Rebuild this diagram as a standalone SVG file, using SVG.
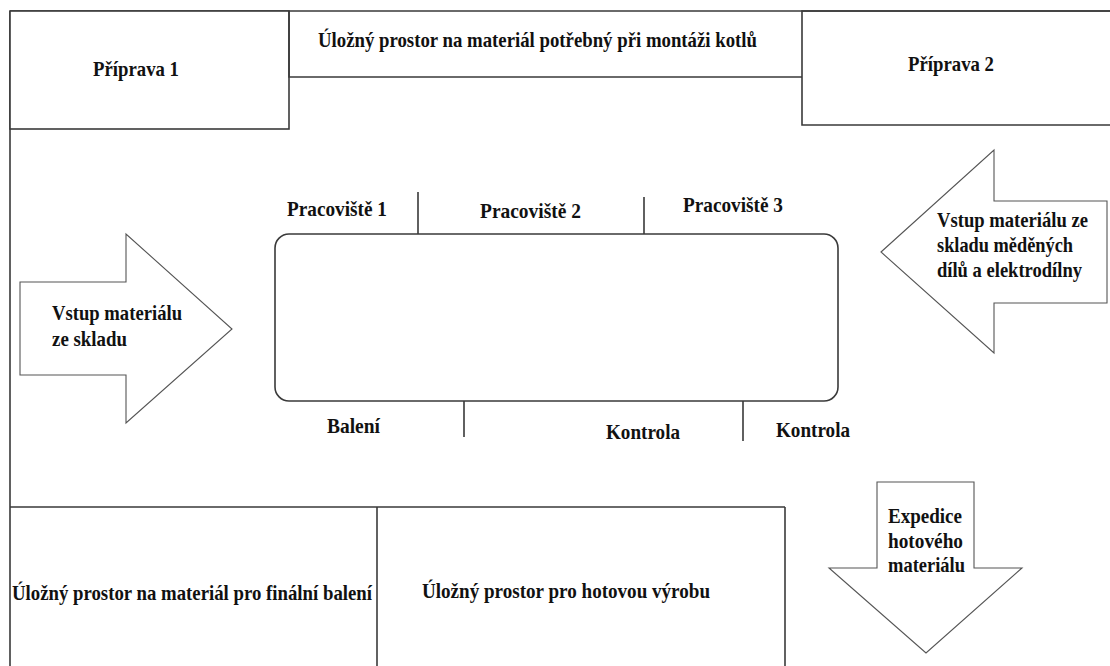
<svg xmlns="http://www.w3.org/2000/svg" width="1110" height="666" viewBox="0 0 1110 666">
<style>
.box{fill:#fff;stroke:#3a3a3a;stroke-width:1.6}
.ln{fill:none;stroke:#3a3a3a;stroke-width:1.6}
.arr{fill:#fff;stroke:#555;stroke-width:1.1;stroke-linejoin:miter}
text{font-family:"Liberation Serif","DejaVu Serif","Times New Roman",serif;font-weight:bold;font-size:22px;fill:#111}
</style>
<rect width="1110" height="666" fill="#fff"/>
<g id="frame">
<path class="ln" d="M10,11 H1110 M10,11 V666 M10,507 H785"/>
</g>
<g font-family="Liberation Serif, DejaVu Serif, serif" font-weight="bold" font-size="22">
<g id="priprava1">
<rect class="box" x="10" y="11" width="279" height="118"/>
<text x="93" y="76" textLength="86" lengthAdjust="spacingAndGlyphs">Příprava 1</text>
</g>
<g id="ulozny-kotle">
<path class="ln" d="M289,11 V77 H802"/>
<text x="318" y="47" textLength="439" lengthAdjust="spacingAndGlyphs">Úložný prostor na materiál potřebný při montáži kotlů</text>
</g>
<g id="priprava2">
<path class="ln" d="M1112,11 H802 V125 H1112"/>
<text x="908" y="71" textLength="86" lengthAdjust="spacingAndGlyphs">Příprava 2</text>
</g>
<g id="vstup-sklad">
<polygon class="arr" points="20,282 126,282 126,234 232,329 126,423 126,375 20,375"/>
<text x="52" y="320" textLength="130" lengthAdjust="spacingAndGlyphs">Vstup materiálu</text>
<text x="52" y="346" textLength="75" lengthAdjust="spacingAndGlyphs">ze skladu</text>
</g>
<g id="vstup-med">
<polygon class="arr" points="881,252 994,150 994,201 1107,201 1107,303 994,303 994,353"/>
<text x="937" y="227" textLength="151" lengthAdjust="spacingAndGlyphs">Vstup materiálu ze</text>
<text x="937" y="252" textLength="136" lengthAdjust="spacingAndGlyphs">skladu měděných</text>
<text x="937" y="277" textLength="145" lengthAdjust="spacingAndGlyphs">dílů a elektrodílny</text>
</g>
<g id="linka">
<rect class="box" x="275" y="234" width="563" height="167" rx="14" ry="14"/>
</g>
<g id="connectors">
<path class="ln" d="M418,192 V234 M644,197 V234 M464,401 V437 M743,401 V441"/>
</g>
<g id="pracoviste1"><text x="287" y="216" textLength="100" lengthAdjust="spacingAndGlyphs">Pracoviště 1</text></g>
<g id="pracoviste2"><text x="480" y="218" textLength="101" lengthAdjust="spacingAndGlyphs">Pracoviště 2</text></g>
<g id="pracoviste3"><text x="683" y="212" textLength="100" lengthAdjust="spacingAndGlyphs">Pracoviště 3</text></g>
<g id="baleni"><text x="327" y="433" textLength="53" lengthAdjust="spacingAndGlyphs">Balení</text></g>
<g id="kontrola1"><text x="606" y="439" textLength="74" lengthAdjust="spacingAndGlyphs">Kontrola</text></g>
<g id="kontrola2"><text x="776" y="437" textLength="74" lengthAdjust="spacingAndGlyphs">Kontrola</text></g>
<g id="ulozny-baleni">
<path class="ln" d="M377,507 V668"/>
<text x="12" y="600" textLength="360" lengthAdjust="spacingAndGlyphs">Úložný prostor na materiál pro finální balení</text>
</g>
<g id="ulozny-hotova">
<path class="ln" d="M785,507 V668"/>
<text x="422" y="598" textLength="288" lengthAdjust="spacingAndGlyphs">Úložný prostor pro hotovou výrobu</text>
</g>
<g id="expedice">
<polygon class="arr" points="877,482 974,482 974,568 1022,568 926,653 829,568 877,568"/>
<text x="888" y="523" textLength="74" lengthAdjust="spacingAndGlyphs">Expedice</text>
<text x="888" y="548" textLength="75" lengthAdjust="spacingAndGlyphs">hotového</text>
<text x="888" y="572" textLength="77" lengthAdjust="spacingAndGlyphs">materiálu</text>
</g>
</g>
</svg>
